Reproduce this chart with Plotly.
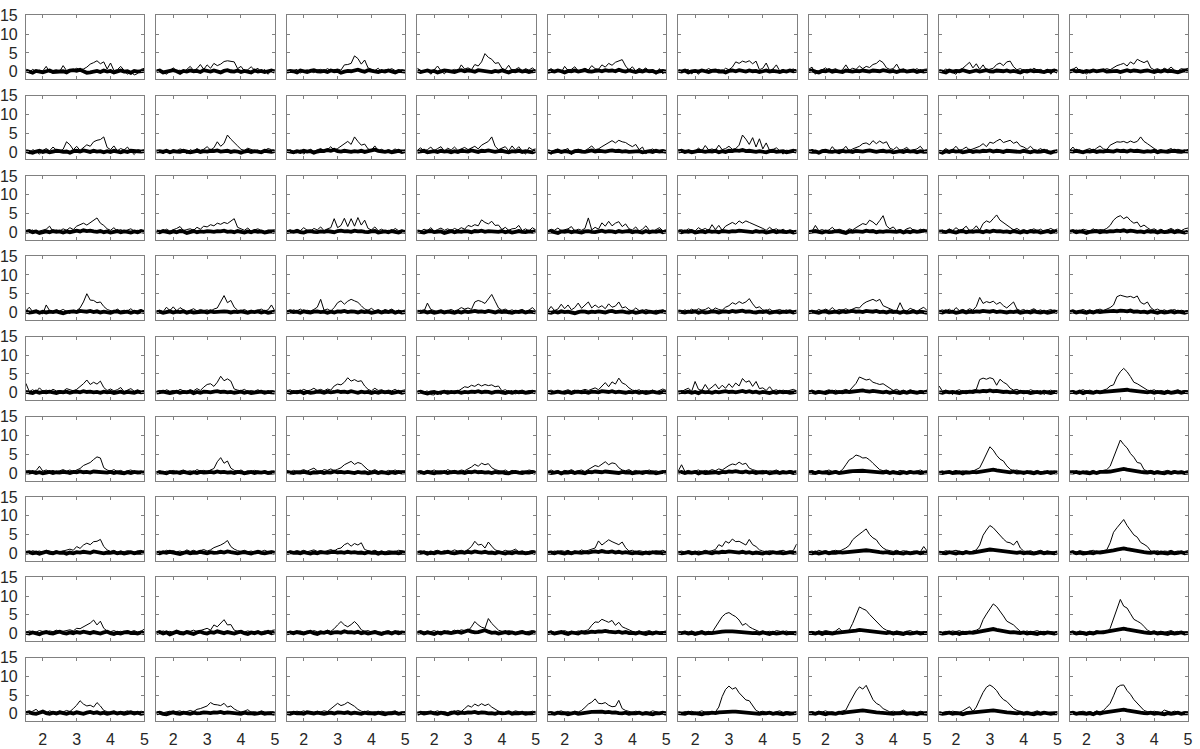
import plotly.graph_objects as go

# Sample positions (time axis) shared by every panel
X = [1.5, 1.6, 1.7, 1.8, 1.9, 2.0, 2.1, 2.2, 2.3, 2.4, 2.5, 2.6, 2.7, 2.8, 2.9, 3.0, 3.1, 3.2,
     3.3, 3.4, 3.5, 3.6, 3.7, 3.8, 3.9, 4.0, 4.1, 4.2, 4.3, 4.4, 4.5, 4.6, 4.7, 4.8, 4.9, 5.0]

X_TICKS = [2, 3, 4, 5]
Y_TICKS = [0, 5, 10, 15]
X_RANGE = [1.5, 5.0]
Y_RANGE = [-2.0, 15.0]

# ---------------- thin series (one list per panel, 9 panels per row) ----------------
THIN_ROW1 = [
    [0.3,-0.2,0.6,0.1,0.4, 0.2,1.4,-0.2,0.3,0.5, 0.1,1.6,0.3,0.6,0.4, 0.9,0.5,0.7,1.2,2.0, 2.4,2.9,2.1,2.6,0.7, 2.3,0.3,0.5,1.4,0.2, -0.7,0.1,-0.9,-0.5,0.6, 0.9],
    [0.2,0.6,-0.1,-0.7,0.3, 1.0,0.2,0.4,-0.2,0.7, 1.4,0.3,0.8,1.9,0.6, 1.8,0.9,2.2,1.6,2.0, 2.7,2.9,2.8,2.6,0.8, 1.4,0.2,0.5,1.3,0.4, 0.9,-0.3,0.6,-0.7,0.3, 0.5],
    [0.4,-0.1,0.3,0.6,-0.4, 0.2,0.5,0.1,-0.3,0.4, 0.6,0.2,0.8,0.3,0.5, 0.7,0.4,1.8,1.9,2.2, 4.2,3.5,2.0,3.1,1.0, 0.6,0.3,0.9,-0.2,0.5, 0.4,0.8,0.2,-0.2,0.5, 0.3],
    [0.9,0.4,-0.2,0.3,-0.7, 0.5,1.5,0.2,-0.6,0.4, 0.3,0.6,0.2,1.8,0.7, 1.0,0.5,1.9,1.5,2.6, 4.8,3.8,3.3,2.2,2.4, 0.9,0.5,1.7,0.3,0.6, 1.1,0.2,0.8,0.4,1.0, 0.3],
    [0.3,0.8,0.2,0.5,-0.2, 1.4,0.3,0.6,1.3,0.2, 0.5,0.9,0.4,1.6,0.8, 0.6,1.8,1.2,2.2,1.7, 2.5,2.9,3.2,1.5,0.4, 1.3,0.2,0.9,0.4,1.0, -0.2,0.6,-0.7,0.8,-0.6, 0.4],
    [0.4,-0.1,0.3,0.6,-0.6, 0.2,-0.7,0.5,0.3,0.8, 0.4,0.2,0.6,0.1,0.9, 0.5,1.2,2.6,2.2,2.8, 2.5,2.9,2.1,2.8,0.5, 0.9,2.3,0.3,0.7,1.8, 0.2,0.6,-0.2,0.4,0.7, 0.3],
    [0.6,1.2,-0.7,0.3,0.5, 1.0,0.2,0.4,0.8,0.1, 0.5,1.8,0.4,0.9,0.6, 1.5,0.8,1.4,1.1,1.9, 2.2,3.0,2.4,1.0,0.6, 0.8,2.0,0.4,0.7,0.2, 0.5,0.3,0.8,0.2,0.6, 0.7],
    [0.4,0.1,0.7,0.3,-0.2, -0.7,0.5,0.9,1.7,2.5, 1.0,2.1,0.6,1.8,0.4, 0.7,0.9,1.9,2.3,1.6, 2.6,2.8,1.3,0.5,0.8, 0.3,0.6,0.2,0.9,0.4, 0.6,0.1,0.7,-0.7,0.5, 0.3],
    [0.3,0.6,1.2,0.2,0.4, -0.7,0.3,0.5,0.1,0.6, 0.4,0.8,0.5,1.1,1.6, 1.9,2.2,1.5,2.6,2.0, 3.3,2.8,2.4,2.9,1.0, 0.5,0.8,0.3,0.9,0.5, 1.2,0.4,0.2,0.8,0.6, 0.9],
]
THIN_ROW2 = [
    [0.3,-0.5,0.6,0.2,-0.6, 0.4,0.9,0.3,1.3,0.5, 0.2,0.7,2.7,1.9,0.6, 1.5,0.4,1.1,1.9,1.5, 2.7,3.1,3.3,4.0,1.2, 0.6,1.6,0.3,0.9,0.5, 1.3,0.2,-0.7,0.6,0.4, 0.5],
    [0.5,0.2,-0.4,0.4,0.1, 0.6,0.3,0.8,0.5,-0.5, 0.6,0.2,0.9,0.4,0.7, 1.4,0.5,1.1,2.7,1.5, 2.3,4.5,3.4,2.4,1.6, 0.7,0.4,1.0,0.6,0.3, 0.5,-0.2,0.4,0.9,0.6, 0.4],
    [0.2,0.6,0.1,-0.3,0.5, -0.6,0.3,0.7,0.2,0.5, 0.9,0.3,0.6,1.4,0.4, 0.9,1.6,2.3,2.8,2.0, 4.0,2.8,1.8,2.1,0.8, 0.5,1.6,0.3,0.7,0.2, 0.6,0.3,0.8,0.1,0.5, 0.3],
    [0.4,1.1,0.2,0.6,1.3, 0.3,0.9,1.4,0.2,1.0, 0.5,1.3,0.4,0.9,1.2, 0.6,1.0,1.5,0.8,1.8, 2.3,2.8,4.0,1.5,0.6, 0.9,1.4,0.3,1.6,0.5, 1.4,0.2,-0.6,1.2,0.6, 0.8],
    [0.3,-0.7,0.5,0.8,0.2, 0.6,0.9,-0.7,0.4,0.7, 0.5,0.3,0.9,1.6,0.6, 0.8,1.4,2.0,2.5,3.0, 2.4,3.1,2.7,2.5,1.9, 1.4,2.0,0.6,1.3,-0.5, 0.4,0.8,0.2,0.5,0.6, 0.3],
    [0.6,0.2,-0.3,0.5,0.4, 0.2,1.0,0.3,1.7,0.5, 0.8,0.4,1.8,0.6,0.9, 1.5,0.7,0.9,1.8,4.5, 3.4,2.0,3.8,1.3,3.5, 0.8,2.4,0.4,0.6,1.1, 0.3,-0.6,0.5,0.2,0.4, 0.6],
    [0.2,0.7,0.3,-0.2,0.5, 0.4,0.1,1.4,0.3,0.6, 0.5,1.5,0.2,0.8,1.2, 1.5,2.2,2.4,1.9,3.0, 2.2,2.9,2.3,2.7,1.0, 0.6,1.3,0.4,0.7,1.2, 0.3,0.5,0.8,1.5,0.4, 0.6],
    [0.4,0.2,0.9,0.3,0.6, 1.5,0.4,0.7,1.3,0.5, 0.8,1.1,1.5,2.2,1.4, 2.6,2.3,2.9,3.4,2.5, 2.8,3.1,2.3,2.7,1.6, 1.3,0.7,1.5,0.6,0.4, 0.9,0.2,0.6,-0.5,0.3, 0.5],
    [0.3,1.3,0.2,0.5,-0.4, 0.6,0.9,0.3,1.0,1.6, 0.8,0.6,1.8,2.2,2.7, 2.6,2.8,2.4,2.9,2.5, 2.8,4.0,2.8,2.2,1.5, 0.9,0.4,0.6,0.2,0.5, 0.9,0.3,0.7,0.5,0.2, 0.7],
]
THIN_ROW3 = [
    [0.4,0.1,0.6,-0.2,0.3, 0.5,0.8,1.6,0.2,0.6, 0.3,0.9,0.5,1.2,0.7, 1.6,2.1,2.4,1.9,2.6, 3.2,3.8,2.4,1.8,0.9, 0.5,1.2,0.3,0.7,0.2, 0.6,0.9,0.3,0.5,0.2, 0.4],
    [0.2,0.5,0.1,0.8,0.3, 0.6,1.0,1.5,0.4,0.7, 0.9,0.5,1.3,0.8,1.6, 1.4,2.0,1.7,2.4,2.1, 2.6,2.3,2.9,3.6,1.3, 0.8,0.5,1.1,0.3,0.6, 0.9,0.4,0.2,0.6,0.5, 0.7],
    [0.3,0.6,0.2,0.8,0.4, 1.2,0.5,0.3,1.0,0.6, 1.4,0.4,0.9,1.2,3.6, 1.2,1.8,3.7,1.5,3.6, 1.6,3.9,1.9,3.2,1.0, 0.6,1.4,0.4,0.8,0.3, 0.5,0.2,1.0,0.4,0.6, 0.3],
    [0.5,0.2,0.8,0.4,1.2, 0.3,0.7,1.1,0.5,0.9, 0.4,1.0,0.6,1.2,0.8, 1.8,1.5,2.0,1.7,3.3, 2.6,2.2,2.9,1.8,1.9, 0.7,1.3,0.5,0.9,1.0, 1.8,0.4,0.9,0.3,1.2, 0.6],
    [0.3,0.8,0.5,1.1,0.4, 0.6,0.9,1.5,0.3,0.8, 0.5,1.0,3.8,0.6,1.3, 0.8,2.5,1.6,2.9,1.7, 2.4,2.8,1.5,2.2,0.9, 0.6,1.4,0.3,0.8,1.7, 0.5,0.2,0.7,1.2,0.4, 0.6],
    [0.4,0.7,0.2,0.9,0.5, 0.3,1.2,0.6,1.0,0.4, 2.0,0.7,1.8,0.5,1.6, 2.2,2.6,2.1,3.0,2.4, 3.0,2.6,2.2,1.9,1.6, 1.0,0.5,1.3,0.6,0.9, 0.3,0.8,0.2,0.6,0.4, 0.5],
    [0.5,0.2,1.8,0.4,0.7, 0.3,0.6,1.3,0.4,0.8, 0.5,0.2,0.9,0.6,1.2, 1.8,2.3,2.0,3.2,2.7, 1.9,3.1,4.4,1.7,0.9, 1.4,0.4,0.7,0.3,0.9, 1.2,0.5,0.2,0.8,0.4, 0.6],
    [0.3,0.6,0.2,0.9,0.4, 1.2,0.5,0.8,1.6,0.4, 0.7,1.7,0.5,2.3,3.0, 2.6,3.6,4.6,3.2,2.6, 1.8,1.2,0.6,1.0,0.4, 0.7,0.3,0.5,0.9,0.4, 0.8,0.2,0.6,1.0,0.5, 0.9],
    [0.4,0.2,0.6,0.3,0.8, 0.5,0.3,0.9,0.4,0.7, 0.6,1.0,1.8,3.2,4.0, 4.4,3.6,4.1,3.1,2.4, 2.7,1.4,1.9,1.2,0.6, 0.9,0.4,0.8,0.3,0.6, 1.0,0.5,0.8,0.4,0.9, 1.1],
]
THIN_ROW4 = [
    [0.4,1.4,0.2,0.6,0.3, -0.4,2.0,0.5,0.2,0.7, 0.4,0.8,0.3,-0.3,0.6, 0.5,1.2,2.8,5.0,3.3, 3.2,2.6,2.8,1.6,0.8, 0.5,0.2,0.9,0.3,0.6, 0.4,1.0,0.2,0.5,0.8, 0.3],
    [0.3,0.6,0.2,1.4,0.5, 1.5,0.4,1.3,0.7,0.3, 0.6,1.0,0.4,0.8,0.5, 0.7,0.3,0.9,1.2,3.0, 4.5,2.6,3.2,1.4,0.6, 0.4,0.8,0.3,0.6,0.2, 0.5,0.9,0.4,0.7,2.0, 0.4],
    [0.5,0.2,0.7,0.4,0.9, 0.3,0.6,0.4,0.8,1.4, 3.5,0.6,0.9,0.4,1.3, 2.6,3.1,2.2,3.0,3.5, 3.1,2.7,1.8,0.9,0.6, 1.1,0.4,0.7,0.3,0.8, 0.5,0.9,0.3,0.6,0.4, 0.7],
    [0.4,0.6,0.3,2.5,0.8, 0.4,0.2,0.6,0.3,0.5, 0.8,0.4,0.7,1.3,0.9, 1.2,0.8,2.8,3.2,2.9, 2.4,3.6,4.8,3.0,1.2, 0.6,0.9,0.4,0.7,0.3, 0.5,0.8,0.2,0.6,1.3, 0.4],
    [0.4,1.6,0.5,0.9,2.2, 1.0,2.0,0.7,1.3,2.5, 1.1,2.0,2.8,1.2,2.0, 1.3,1.8,1.0,2.3,1.4, 1.7,2.8,1.2,1.5,0.7, 0.4,1.2,0.5,0.3,0.8, 0.5,0.2,0.6,0.4,0.7, 0.3],
    [0.5,0.2,0.7,0.3,0.9, 0.4,1.0,0.6,0.8,1.3, 0.5,1.2,0.8,0.6,1.4, 1.8,2.6,2.2,2.9,2.4, 2.8,3.7,2.3,1.2,1.5, 0.7,0.4,0.9,0.3,0.6, 0.8,0.4,0.7,0.2,0.5, 0.6],
    [0.3,0.6,0.2,0.8,0.4, 0.9,0.5,1.3,0.4,0.8, 0.6,1.0,0.5,0.9,1.3, 1.2,2.2,2.8,3.2,3.5, 3.0,3.5,1.8,1.4,0.9, 0.6,0.5,2.6,0.7,0.4, 1.1,0.6,0.3,0.9,1.4, 0.5],
    [0.4,0.7,0.3,0.9,0.2, 1.3,0.5,0.8,0.4,1.0, 0.6,1.6,4.0,2.4,2.9, 2.6,3.0,2.2,2.7,1.8, 1.2,2.0,2.8,0.9,0.5, 0.8,0.3,0.6,1.0,0.4, 0.7,0.2,0.5,0.8,0.3, 0.6],
    [0.3,0.6,0.2,0.5,0.8, 0.4,0.7,0.3,0.6,0.9, 0.5,0.8,1.3,2.0,4.2, 4.6,4.4,4.1,4.3,3.9, 4.4,2.7,2.2,2.8,1.3, 0.6,0.9,0.4,0.7,0.3, 0.5,0.8,0.3,0.6,0.4, 0.5],
]
THIN_ROW5 = [
    [2.5,0.3,0.8,0.2,1.3, 0.4,0.7,0.3,0.9,0.5, 0.6,0.4,1.1,0.7,0.5, 0.9,1.6,2.4,3.4,2.2, 2.8,2.3,3.1,1.4,0.6, 1.0,0.5,0.8,1.4,0.3, 0.7,1.1,0.4,0.8,0.3, 0.5],
    [0.3,0.6,0.2,0.8,0.4, 0.6,0.3,0.9,0.5,0.4, 0.8,0.5,1.1,0.6,1.5, 2.2,2.4,1.7,2.8,4.4, 3.2,3.7,3.1,1.0,0.7, 0.5,0.9,0.3,0.6,0.4, 0.8,0.3,0.5,0.2,0.6, 0.4],
    [0.5,0.8,0.3,0.6,0.4, 0.9,0.5,0.7,1.2,0.6, 0.9,0.5,1.0,0.7,1.8, 2.3,2.1,2.8,4.0,3.1, 3.5,3.0,3.2,1.8,0.9, 0.5,1.2,0.6,0.8,0.4, 0.7,0.5,0.9,0.3,0.6, 0.8],
    [0.3,0.6,0.2,0.5,-0.5, -0.6,0.4,-0.5,0.3,0.6, 0.2,0.5,0.4,0.9,1.6, 1.4,2.0,1.7,2.3,1.8, 2.2,1.9,2.1,1.6,1.8, 0.5,0.8,0.3,0.6,-0.4, 0.5,0.7,0.3,0.6,0.4, 0.5],
    [0.4,0.7,0.3,0.5,0.2, 0.6,0.8,0.4,0.7,0.3, 0.5,0.9,0.6,1.0,1.3, 0.8,1.8,2.7,1.6,2.9, 2.3,3.9,2.6,2.2,1.3, 0.7,0.5,0.8,0.3,0.6, 0.4,0.7,0.2,0.5,1.0, 0.6],
    [0.5,0.3,0.8,1.2,0.4, 3.0,0.9,0.6,2.2,0.8, 1.5,2.3,1.0,2.0,1.2, 2.4,1.4,2.6,1.8,3.8, 2.8,3.2,1.7,3.0,1.1, 1.3,0.6,1.6,0.5,0.8, 0.3,0.7,0.4,0.6,0.9, 0.5],
    [0.4,0.7,0.3,0.6,0.2, 0.5,0.8,0.4,0.7,0.3, 0.6,0.9,0.5,1.4,2.5, 4.2,3.8,3.4,3.6,2.8, 2.5,2.2,2.4,1.8,1.4, 0.6,0.9,0.4,0.7,0.3, 0.8,0.5,0.2,0.6,0.4, 0.7],
    [1.8,0.4,0.7,0.3,-0.5, 0.5,0.8,0.3,0.6,0.4, 0.7,0.9,3.5,3.9,3.6, 4.0,3.7,2.0,3.6,2.8, 2.3,1.2,0.7,0.9,0.4, 0.6,0.3,0.8,0.5,0.2, 0.6,-0.5,0.4,0.7,0.3, 0.5],
    [0.3,0.6,0.2,0.5,0.8, 0.4,0.7,0.3,0.6,0.4, 0.8,1.0,1.8,2.1,4.2, 5.6,6.5,5.6,4.3,2.8, 2.4,1.8,1.1,0.7,0.5, 0.8,0.3,0.6,0.4,0.7, 0.3,0.5,0.8,0.4,0.6, 0.5],
]
THIN_ROW6 = [
    [0.4,0.7,0.3,0.6,1.8, 0.5,0.8,0.4,0.7,0.3, 0.6,0.9,0.5,0.8,0.4, 0.7,1.2,2.0,2.3,2.8, 3.6,4.3,4.0,1.4,0.8, 0.5,0.9,0.4,0.7,0.3, 0.6,0.8,0.4,0.5,0.3, 0.6],
    [0.3,0.6,0.2,0.5,0.4, 0.7,0.3,0.6,0.8,0.4, 0.6,0.3,0.9,0.5,0.7, 0.4,0.8,1.2,3.0,4.1, 2.6,3.2,1.3,0.7,0.5, 0.8,0.3,0.6,0.4,0.7, 0.5,0.2,0.6,0.3,0.5, 0.4],
    [0.5,0.3,0.7,0.4,0.6, 0.9,0.5,0.8,1.3,0.6, 0.4,0.9,0.7,1.1,0.6, 1.0,1.4,2.2,2.6,3.1, 2.3,2.8,2.5,1.6,0.8, 0.5,0.9,0.4,0.6,0.3, 0.7,0.5,0.8,0.4,0.6, 0.5],
    [0.4,0.6,0.3,0.7,0.5, 0.8,0.4,0.6,0.3,0.9, 0.5,0.7,0.4,0.8,0.6, 1.0,1.6,2.3,1.8,2.6, 2.2,2.5,1.4,0.9,0.6, 0.4,0.8,0.3,0.7,0.5, 0.3,0.6,0.4,0.8,0.5, 0.4],
    [0.3,0.8,0.4,0.6,0.2, 0.7,0.5,0.9,0.4,0.6, 0.8,0.4,1.0,1.6,2.0, 1.7,2.4,3.0,2.2,2.7, 2.5,1.4,0.8,0.6,0.9, 0.4,0.7,0.3,0.6,0.5, 0.8,0.4,0.6,0.3,0.5, 0.7],
    [0.5,2.2,0.4,0.7,0.3, 0.6,0.8,0.4,0.7,0.5, 0.9,0.6,1.1,0.8,1.5, 2.0,2.4,2.2,2.9,2.3, 2.6,1.3,0.9,0.6,0.4, 0.7,0.3,0.6,0.5,0.8, 0.4,0.6,0.3,0.7,0.5, 0.6],
    [0.4,0.7,0.3,0.6,0.2, 0.5,0.8,0.4,0.6,0.3, 0.9,2.2,3.5,4.0,4.8, 4.5,4.0,4.1,3.5,2.6, 1.8,0.9,0.6,0.8,0.4, 0.6,0.3,0.7,0.5,0.4, 0.6,0.3,0.5,0.8,0.4, 0.5],
    [0.3,0.6,0.2,0.5,0.4, 0.7,0.3,0.6,0.4,0.2, 0.5,1.0,1.4,3.2,5.2, 7.0,6.1,4.7,3.7,3.2, 1.9,1.0,0.6,0.8,0.4, 0.5,0.3,0.6,0.4,0.7, 0.3,0.5,0.2,0.6,0.4, 0.5],
    [0.4,0.6,0.3,0.5,0.2, 0.6,0.4,0.7,0.3,0.5, 0.6,0.9,1.8,4.1,6.2, 8.8,7.6,6.7,5.2,4.2, 2.8,2.6,0.9,0.5,0.7, 0.4,0.6,0.3,0.5,0.7, 0.4,0.6,0.3,0.5,0.4, 0.6],
]
THIN_ROW7 = [
    [0.5,0.2,0.7,0.4,0.6, 0.3,0.8,0.5,0.4,0.7, 0.3,0.6,0.9,1.1,0.8, 1.8,1.3,2.2,2.7,2.3, 3.1,3.2,3.7,1.8,0.9, 0.5,0.8,0.3,0.6,0.4, 0.7,0.5,0.3,0.6,0.8, 0.4],
    [0.4,0.6,0.3,0.8,0.5, 0.7,0.4,0.6,0.3,0.9, 0.5,0.8,0.4,0.7,1.0, 0.6,0.9,1.5,1.8,2.2, 2.7,3.4,1.8,1.1,0.7, 0.5,0.8,0.4,0.6,0.3, 0.7,0.5,0.8,0.4,0.6, 0.5],
    [0.3,0.6,0.4,0.7,0.5, 0.8,0.4,0.6,0.9,0.5, 0.7,0.4,0.8,1.0,0.6, 1.2,1.4,2.3,2.7,1.9, 2.6,2.2,2.8,1.0,0.7, 0.5,0.8,0.4,0.6,0.3, 0.7,0.5,0.4,0.8,0.6, 0.5],
    [0.4,0.7,0.3,0.5,-0.4, 0.6,0.8,0.4,0.7,0.3, 0.5,0.9,0.6,0.8,0.5, 1.0,1.8,3.2,2.2,2.4, 1.4,3.0,1.9,0.9,0.6, 0.4,0.8,0.5,0.7,1.1, 0.4,0.6,0.3,0.5,0.7, 0.6],
    [0.5,0.3,0.6,0.4,0.7, 0.5,0.8,0.3,0.6,0.4, 0.9,0.5,0.8,1.1,1.4, 3.3,2.2,2.9,3.6,3.1, 2.6,2.3,3.0,1.5,0.6, 0.8,0.4,0.7,0.5,0.3, 0.6,0.4,0.7,0.5,0.8, 0.4],
    [0.4,0.6,0.3,0.7,0.5, 0.3,0.6,0.4,0.8,0.5, 0.7,1.0,2.3,1.8,3.2, 2.7,3.8,3.1,3.2,2.7, 2.2,3.7,2.3,1.8,0.9, 0.6,0.4,0.7,0.5,0.3, 0.6,0.8,0.4,0.5,0.7, 2.5],
    [0.4,0.6,0.3,0.8,0.5, 0.7,0.4,0.6,0.8,0.5, 0.9,1.4,2.1,3.6,4.4, 5.2,5.8,6.5,5.0,4.1, 3.6,2.3,1.4,0.9,0.6, 0.5,0.8,0.4,0.7,0.5, 0.3,0.6,0.5,0.4,1.8, 0.6],
    [0.5,0.3,0.7,0.4,0.6, 0.8,0.5,0.4,0.7,0.3, 0.6,0.9,2.2,4.8,6.2, 7.4,6.8,5.8,4.6,3.8, 3.0,2.8,2.2,3.3,1.4, 0.6,0.4,0.7,0.3,0.5, 0.8,0.4,0.6,0.3,0.5, 0.6],
    [0.4,0.6,0.3,0.7,0.5, 0.3,0.6,0.8,0.4,0.5, 0.7,0.9,2.8,5.6,6.8, 7.8,9.0,7.4,6.3,4.9, 4.3,2.9,2.4,1.8,0.6, 0.4,0.7,0.3,0.6,0.5, 0.8,0.4,0.6,0.3,0.5, 0.7],
]
THIN_ROW8 = [
    [0.3,0.7,0.5,0.4,0.8, 0.6,0.3,0.7,0.5,0.9, 0.4,0.6,0.8,1.0,0.7, 1.4,1.3,1.8,2.3,2.8, 3.6,2.3,3.3,1.4,0.7, 0.5,0.8,0.4,0.6,0.3, 0.7,0.5,0.8,0.4,0.6, 1.2],
    [0.5,0.3,0.7,0.4,0.6, 0.3,0.8,0.5,0.4,0.7, 0.6,0.9,0.5,0.8,1.2, 1.4,0.9,2.3,1.8,2.8, 3.7,2.3,2.4,0.9,0.6, 0.8,0.4,0.7,0.5,0.3, 0.6,0.4,0.7,0.5,0.8, 1.0],
    [0.4,0.6,0.3,0.5,0.7, 0.4,0.6,0.3,0.8,0.5, 0.7,0.4,0.9,0.6,1.3, 2.3,3.2,2.3,1.8,2.4, 3.2,2.3,1.0,0.6,0.8, 0.4,0.7,0.5,0.3,0.6, 0.8,0.4,0.5,0.7,0.3, 0.6],
    [0.3,0.6,0.4,0.7,0.5, 0.8,0.4,0.6,0.3,0.7, 0.5,0.9,0.6,1.0,0.8, 0.7,1.8,3.2,2.3,1.7, 1.4,4.0,2.7,1.8,0.9, 0.6,0.4,0.8,0.5,0.3, 0.6,0.7,0.4,0.5,0.8, 0.6],
    [0.4,0.7,0.3,0.6,0.5, 0.8,0.4,0.6,0.3,0.7, 0.5,0.8,1.0,2.2,3.1, 3.0,3.8,3.4,3.0,3.5, 2.2,3.0,1.8,1.4,0.9, 0.6,0.4,0.7,0.3,0.5, 0.8,0.4,0.6,0.3,0.5, 0.7],
    [0.5,0.3,0.6,0.4,0.7, 0.3,0.5,0.8,0.4,0.6, 0.3,1.8,3.1,4.5,5.3, 5.6,5.0,4.5,3.6,2.2, 2.7,1.8,1.3,0.9,0.5, 0.7,0.4,0.6,0.3,0.8, 0.5,0.4,0.7,0.3,0.5, 0.6],
    [0.4,0.6,0.3,0.7,0.5, 0.8,0.6,0.4,0.7,1.4, 0.5,0.8,0.9,2.7,5.0, 7.1,6.6,6.2,5.1,4.2, 3.2,2.3,1.4,0.9,0.6, 0.4,0.7,0.5,0.3,0.6, 0.8,0.4,0.6,0.5,0.3, 0.6],
    [0.5,0.3,0.6,0.4,0.7, 0.5,0.8,0.4,0.6,0.3, 0.7,0.9,1.4,3.7,5.2, 6.6,7.9,7.2,6.1,4.7, 3.3,2.8,2.3,1.4,0.6, 0.4,0.7,0.3,0.5,0.8, 0.4,0.6,0.3,0.5,0.4, 0.6],
    [0.4,0.6,0.3,0.7,0.5, 0.3,0.6,0.4,0.8,0.5, 0.7,0.4,1.4,3.8,6.6, 9.1,7.3,6.8,5.3,3.8, 3.3,2.8,1.9,0.9,0.5, 0.7,0.4,0.6,0.3,0.5, 0.8,0.4,0.6,0.3,0.5, 0.4],
]
THIN_ROW9 = [
    [0.5,0.3,0.7,1.2,0.4, 0.6,0.3,0.8,0.5,0.4, 0.7,0.5,0.9,0.6,1.4, 2.3,3.5,2.6,2.1,2.3, 1.8,3.0,2.1,0.9,0.6, 0.4,0.7,0.3,0.6,0.5, 0.8,0.4,0.6,0.3,0.7, 0.5],
    [0.4,0.6,0.3,0.5,0.7, 0.4,0.6,0.8,0.3,0.5, 0.9,0.6,1.2,1.4,1.8, 2.1,3.0,2.5,2.4,2.2, 2.8,1.8,2.1,1.3,0.8, 0.5,0.7,1.1,0.4,0.6, 0.3,0.8,0.5,0.4,0.6, 0.5],
    [0.3,0.6,0.4,0.7,0.5, 0.8,0.4,0.6,0.3,0.7, 0.5,0.8,0.6,1.3,2.1, 2.8,2.2,2.5,3.1,2.6, 2.0,1.2,0.7,0.5,0.8, 0.4,0.6,0.3,0.7,0.5, 0.4,0.6,0.8,0.3,0.5, 0.6],
    [0.5,0.3,0.6,0.4,0.7, 0.5,0.8,0.4,0.6,0.3, 0.7,0.5,0.9,0.6,1.4, 2.2,1.8,2.6,2.1,2.7, 2.2,2.6,1.8,1.3,0.7, 0.5,0.3,0.6,0.4,0.8, 0.5,0.3,0.6,0.4,0.7, 0.5],
    [0.4,0.6,0.3,0.5,0.8, 0.4,0.6,0.3,0.7,0.5, 0.9,1.7,2.6,3.1,4.0, 2.8,2.7,3.0,2.3,1.9, 2.0,3.6,1.4,0.9,0.6, 0.4,0.7,0.5,0.3,0.6, 0.4,0.8,0.5,0.3,0.6, 0.5],
    [0.5,0.3,0.6,0.4,0.7, 0.3,0.5,0.8,0.4,0.6, 0.3,0.5,1.8,4.6,6.5, 7.4,6.6,7.0,5.6,4.6, 3.7,3.5,2.2,0.9,0.5, 0.7,0.4,0.6,0.3,0.5, 0.8,0.4,0.6,0.5,0.3, 0.6],
    [0.4,0.6,0.3,0.7,0.5, 0.8,0.4,0.6,0.3,0.5, 0.7,1.0,2.8,4.6,6.1, 7.2,6.6,7.6,5.7,3.8, 2.8,2.3,1.4,0.9,0.5, 0.7,0.4,0.6,1.0,0.5, 0.3,0.6,0.4,0.7,0.5, 0.6],
    [0.5,0.3,0.6,0.4,0.7, 0.5,0.4,0.8,1.4,1.9, 0.6,1.8,3.8,5.7,7.1, 7.7,7.1,6.2,4.8,3.8, 3.3,2.3,1.4,0.9,0.6, 0.4,0.7,0.3,0.5,0.8, 0.4,0.6,0.3,0.5,0.4, 0.6],
    [0.4,0.6,0.3,0.5,0.7, 0.4,0.6,0.3,0.8,0.5, 0.9,1.8,2.8,4.8,7.0, 7.6,7.7,6.2,5.2,3.8, 2.8,1.8,0.9,0.6,0.4, 0.7,0.5,0.3,1.0,0.6, 0.4,0.7,0.5,0.3,0.6, 0.5],
]

# ---------------- thick series ----------------
THICK_ROW1 = [
    [0.3,0.0,-0.3,0.2,0.1,-0.2,0.1,0.3,-0.1,0.0,0.2,0.1,-0.2,0.3,0.4,0.2,0.5,0.1,-0.3,-0.2,0.1,0.2,-0.1,0.3,0.0,0.2,-0.2,0.1,0.3,0.0,0.1,-0.3,0.2,0.0,0.1,0.2],
    [0.1,0.3,-0.2,0.0,0.2,0.4,0.1,-0.3,0.2,0.0,0.3,0.1,0.2,-0.1,0.4,0.2,0.0,0.3,0.1,-0.2,0.2,0.4,0.1,0.0,0.3,-0.1,0.2,0.1,-0.2,0.3,0.0,0.2,-0.1,0.1,0.3,0.0],
    [0.0,0.2,0.1,-0.2,0.3,0.0,-0.1,0.2,0.4,0.1,0.0,0.2,-0.1,0.3,0.1,0.2,-0.3,0.0,0.2,0.1,0.3,0.5,0.2,0.0,0.4,0.3,0.1,-0.1,0.2,0.0,0.3,0.1,-0.2,0.2,0.1,0.0],
    [0.2,-0.1,0.1,0.3,0.0,0.2,-0.2,0.1,0.3,0.2,0.0,-0.1,0.2,0.4,0.1,0.3,0.2,0.0,0.4,0.3,0.1,0.2,-0.1,0.2,0.0,0.3,0.1,-0.2,0.2,0.1,0.3,0.0,0.2,-0.1,0.1,0.2],
    [-0.1,0.2,0.0,0.3,0.1,-0.2,0.2,0.1,0.3,0.0,0.2,0.4,0.1,0.0,0.2,0.3,0.1,0.4,0.2,0.3,0.1,0.5,0.2,0.0,0.3,0.1,-0.1,0.2,0.0,0.3,0.1,0.2,-0.2,0.1,0.2,0.0],
    [0.2,0.0,0.3,-0.2,0.1,0.2,0.0,0.3,0.1,-0.1,0.2,0.3,0.0,0.1,-0.2,0.2,0.3,0.1,0.4,0.2,0.0,0.3,0.1,0.2,-0.1,0.1,0.3,0.0,0.2,0.1,-0.1,0.2,0.0,0.3,0.1,0.2],
    [0.1,0.3,0.0,-0.2,0.2,0.1,0.4,0.0,0.2,0.1,-0.1,0.3,0.2,0.0,0.2,0.1,0.3,0.2,0.0,0.3,0.2,0.1,0.4,0.1,0.0,0.2,-0.1,0.2,0.3,0.0,0.1,0.3,-0.1,0.2,0.0,0.2],
    [0.2,0.1,-0.2,0.3,0.0,0.2,0.1,0.4,0.2,-0.1,0.1,0.3,0.0,0.2,0.4,0.1,0.0,0.3,0.2,0.1,0.3,0.0,0.2,0.1,-0.2,0.2,0.0,0.3,0.1,0.2,0.0,-0.1,0.2,0.1,0.3,0.0],
    [0.0,0.3,0.1,0.2,-0.1,0.2,0.0,0.3,0.1,0.2,0.4,0.0,0.1,0.3,0.2,-0.1,0.2,0.4,0.1,0.3,0.2,0.0,0.2,0.3,0.1,-0.1,0.2,0.0,0.3,0.1,0.2,0.0,-0.2,0.1,0.3,0.1],
]
THICK_ROW2 = [
    [0.2,0.0,-0.2,0.1,0.3,0.0,0.2,-0.1,0.1,0.3,0.2,0.0,0.1,-0.2,0.2,0.3,0.1,0.4,0.2,0.0,0.3,0.1,0.2,-0.1,0.2,0.0,0.3,0.1,-0.1,0.2,0.0,0.3,0.2,0.0,0.1,0.2],
    [0.1,0.2,0.0,0.3,-0.1,0.2,0.1,0.0,0.3,0.2,-0.1,0.1,0.3,0.0,0.2,0.1,0.3,0.2,0.4,0.1,0.2,0.3,0.0,0.2,0.1,-0.2,0.1,0.3,0.0,0.2,0.1,-0.1,0.3,0.1,0.0,0.2],
    [0.3,0.1,-0.1,0.2,0.0,0.3,0.1,0.2,-0.2,0.1,0.3,0.2,0.5,0.3,0.6,0.2,0.1,0.3,0.2,0.0,0.2,0.1,0.3,0.0,0.2,0.4,0.6,0.3,0.1,0.0,0.2,-0.1,0.1,0.3,0.0,0.2],
    [0.0,0.2,0.3,-0.1,0.1,0.2,0.0,0.3,0.1,0.2,-0.1,0.2,0.0,0.3,0.2,0.1,0.4,0.2,0.0,0.3,0.2,0.4,0.1,0.0,0.2,0.3,0.1,-0.1,0.2,0.1,0.3,0.0,0.2,0.1,-0.1,0.2],
    [0.2,-0.1,0.1,0.3,0.0,0.2,0.1,-0.2,0.2,0.3,0.1,0.0,0.2,0.4,0.1,0.3,0.2,0.1,0.3,0.4,0.2,0.3,0.1,0.2,0.0,0.1,0.3,0.2,-0.1,0.1,0.2,0.0,0.3,0.1,0.2,0.0],
    [0.1,0.3,0.0,0.2,-0.1,0.1,0.3,0.2,0.0,0.2,0.1,0.3,-0.1,0.2,0.0,0.3,0.2,0.4,0.3,0.5,0.2,0.3,0.1,0.0,0.2,0.1,-0.1,0.2,0.3,0.0,0.1,0.2,-0.1,0.1,0.3,0.1],
    [0.2,0.0,0.1,-0.2,0.2,0.3,0.1,0.0,0.2,-0.1,0.3,0.1,0.2,0.0,0.3,0.2,0.1,0.3,0.4,0.2,0.0,0.2,0.3,0.1,0.2,-0.1,0.1,0.2,0.0,0.3,0.1,0.2,-0.1,0.2,0.0,0.1],
    [0.1,-0.2,0.2,0.0,0.3,0.1,0.2,-0.1,0.1,0.3,0.0,0.2,0.1,0.3,0.2,0.4,0.1,0.3,0.2,0.0,0.3,0.2,0.1,0.2,0.0,0.3,0.1,-0.1,0.2,0.0,0.1,0.3,0.0,-0.2,0.1,0.2],
    [0.2,0.1,0.3,0.0,-0.1,0.2,0.1,0.3,0.0,0.2,0.1,0.3,0.2,0.1,0.4,0.2,0.3,0.1,0.4,0.2,0.3,0.1,0.0,0.2,0.1,0.3,-0.1,0.2,0.1,0.0,0.2,0.3,0.1,0.0,0.2,0.1],
]
THICK_ROW3 = [
    [0.1,0.3,0.0,0.2,-0.2,0.1,0.2,0.0,0.3,0.1,0.2,-0.1,0.2,0.0,0.3,0.4,0.2,0.5,0.3,0.4,0.2,0.1,0.3,0.0,0.2,-0.1,0.1,0.3,0.0,0.2,0.1,-0.1,0.2,0.0,0.3,0.1],
    [0.2,0.0,0.3,0.1,-0.1,0.2,0.0,0.3,0.2,-0.2,0.1,0.3,0.0,0.2,0.1,0.3,0.2,0.1,0.3,0.2,0.4,0.1,0.2,0.0,0.3,0.1,-0.1,0.2,0.0,0.3,0.1,0.2,-0.1,0.1,0.2,0.0],
    [0.0,0.2,0.1,0.3,0.0,-0.1,0.2,0.3,0.1,0.0,0.2,0.1,0.3,0.2,0.0,0.3,0.4,0.2,0.3,0.1,0.4,0.2,0.3,0.1,0.0,0.2,0.3,-0.1,0.1,0.2,0.0,0.3,0.1,-0.1,0.2,0.1],
    [0.2,0.1,-0.1,0.2,0.3,0.0,0.1,0.2,-0.2,0.1,0.3,0.0,0.2,0.1,0.3,0.2,0.0,0.3,0.2,0.4,0.1,0.3,0.2,0.0,0.1,0.3,0.0,0.2,-0.1,0.1,0.3,0.1,0.0,0.2,0.1,0.3],
    [0.1,0.2,0.0,-0.2,0.2,0.1,0.3,0.0,0.2,0.1,-0.1,0.2,0.3,0.1,0.0,0.2,0.4,0.1,0.3,0.2,0.0,0.3,0.1,0.2,0.3,0.0,0.2,0.1,-0.1,0.3,0.0,0.2,0.1,0.3,0.0,0.2],
    [0.3,0.0,0.2,0.1,0.3,-0.1,0.1,0.2,0.0,0.3,0.1,0.2,0.0,0.3,0.2,0.1,0.3,0.2,0.4,0.3,0.1,0.2,0.0,0.3,0.1,0.2,-0.1,0.1,0.3,0.0,0.2,0.1,0.0,0.2,-0.1,0.1],
    [0.0,0.2,0.3,0.1,-0.1,0.2,0.0,0.1,0.3,0.2,0.0,-0.2,0.2,0.1,0.3,0.2,0.1,0.4,0.2,0.3,0.0,0.2,0.1,0.3,0.2,0.0,0.1,0.3,-0.1,0.2,0.0,0.3,0.1,0.2,0.4,0.1],
    [0.2,0.1,0.0,0.3,0.1,-0.1,0.2,0.3,0.0,0.2,0.1,0.3,0.2,0.0,0.3,0.1,0.4,0.2,0.3,0.1,0.2,0.0,0.3,0.1,-0.1,0.2,0.0,0.3,0.1,0.2,-0.1,0.1,0.3,0.0,0.2,0.1],
    [0.1,0.3,0.0,0.2,0.1,-0.2,0.1,0.2,0.3,0.0,0.2,0.1,0.3,0.2,0.4,0.3,0.5,0.2,0.4,0.3,0.1,0.2,0.0,0.3,0.1,0.2,-0.1,0.2,0.0,0.1,0.3,0.0,0.2,0.1,-0.1,0.2],
]
THICK_ROW4 = [
    [0.2,0.0,0.1,0.3,-0.1,0.2,0.0,0.2,0.1,0.3,0.0,-0.2,0.1,0.2,0.3,0.1,0.4,0.3,0.2,0.4,0.1,0.3,0.0,0.2,0.1,-0.1,0.2,0.3,0.0,0.1,0.2,-0.1,0.2,0.0,0.3,0.1],
    [0.1,0.2,-0.1,0.1,0.3,0.0,0.2,0.1,0.3,-0.1,0.2,0.0,0.1,0.3,0.2,0.0,0.3,0.1,0.2,0.4,0.3,0.2,0.0,0.2,0.1,0.3,0.0,-0.1,0.2,0.1,0.3,0.0,0.2,-0.1,0.1,0.2],
    [0.0,0.3,0.1,0.2,-0.1,0.3,0.1,0.0,0.2,0.3,0.1,0.2,-0.1,0.2,0.0,0.3,0.2,0.4,0.1,0.3,0.2,0.0,0.3,0.1,0.2,-0.1,0.1,0.3,0.0,0.2,0.1,0.3,-0.1,0.2,0.0,0.1],
    [0.2,0.1,0.3,0.0,0.2,-0.1,0.1,0.3,0.0,0.2,0.1,-0.1,0.2,0.0,0.3,0.1,0.2,0.4,0.2,0.3,0.1,0.4,0.2,0.0,0.3,0.1,0.2,0.0,-0.1,0.2,0.1,0.3,0.0,0.2,0.1,0.0],
    [0.1,-0.1,0.2,0.0,0.3,0.1,0.2,0.0,-0.2,0.1,0.3,0.2,0.0,0.2,0.1,0.3,0.2,0.0,0.3,0.4,0.1,0.2,0.3,0.1,0.0,0.2,-0.1,0.1,0.3,0.0,0.2,0.1,-0.1,0.2,0.3,0.0],
    [0.3,0.1,0.0,0.2,0.1,0.3,-0.1,0.2,0.0,0.1,0.3,0.2,0.0,0.2,0.3,0.1,0.4,0.2,0.3,0.5,0.2,0.3,0.1,0.0,0.2,0.1,0.3,-0.1,0.1,0.2,0.0,0.2,0.1,0.3,0.0,0.2],
    [0.0,0.2,0.1,-0.1,0.2,0.3,0.0,0.1,0.2,0.0,0.3,0.1,0.2,0.4,0.2,0.3,0.1,0.4,0.3,0.2,0.4,0.1,0.2,0.0,0.3,0.1,0.2,-0.1,0.2,0.0,0.1,0.3,0.0,0.2,0.1,-0.1],
    [0.2,0.0,0.3,0.1,0.2,-0.1,0.1,0.3,0.0,0.2,0.1,0.3,0.2,0.4,0.3,0.2,0.4,0.1,0.3,0.2,0.0,0.2,0.1,0.3,-0.1,0.1,0.2,0.0,0.3,0.1,0.0,0.2,-0.1,0.1,0.3,0.1],
    [0.1,0.3,0.0,0.2,0.1,-0.1,0.2,0.0,0.3,0.1,0.2,0.3,0.2,0.4,0.3,0.5,0.4,0.3,0.5,0.2,0.3,0.1,0.2,0.0,0.3,0.1,-0.1,0.2,0.0,0.1,0.3,0.0,0.2,0.1,-0.1,0.2],
]
THICK_ROW5 = [
    [0.2,0.1,-0.1,0.3,0.0,0.2,0.1,0.3,0.0,-0.1,0.2,0.1,0.3,0.0,0.2,0.3,0.1,0.4,0.2,0.3,0.1,0.2,0.0,0.3,0.1,0.2,-0.1,0.1,0.3,0.0,0.2,0.1,0.0,0.3,0.1,0.2],
    [0.0,0.2,0.3,0.1,-0.1,0.1,0.3,0.0,0.2,0.1,0.3,-0.1,0.2,0.0,0.3,0.2,0.1,0.3,0.4,0.2,0.3,0.1,0.2,0.0,0.1,0.3,0.0,0.2,-0.1,0.1,0.2,0.3,0.0,0.2,0.1,0.0],
    [0.3,0.0,0.2,0.1,0.3,-0.1,0.2,0.0,0.1,0.3,0.2,0.0,0.3,0.1,0.2,0.4,0.2,0.3,0.1,0.4,0.2,0.0,0.3,0.1,0.2,-0.1,0.2,0.0,0.3,0.1,0.2,-0.1,0.1,0.3,0.0,0.2],
    [0.1,0.3,0.0,-0.2,0.1,0.2,-0.1,0.1,0.3,0.0,0.2,0.1,0.3,0.0,0.2,0.1,0.3,0.2,0.4,0.1,0.3,0.2,0.0,0.2,0.3,0.1,-0.1,0.2,0.0,0.3,0.1,0.2,0.0,0.1,0.3,0.1],
    [0.2,0.0,0.1,0.3,0.1,0.0,0.2,-0.1,0.2,0.3,0.1,0.2,0.0,0.3,0.2,0.1,0.4,0.3,0.2,0.4,0.1,0.3,0.2,0.0,0.2,0.1,0.3,0.0,0.2,-0.1,0.1,0.3,0.1,0.0,0.2,0.1],
    [0.0,0.2,0.1,0.3,0.0,0.2,-0.1,0.3,0.1,0.2,0.0,0.3,0.1,0.2,0.4,0.2,0.3,0.1,0.3,0.5,0.2,0.4,0.1,0.3,0.0,0.2,0.1,-0.1,0.2,0.0,0.3,0.1,0.2,0.0,0.1,0.2],
    [0.1,0.3,0.0,0.2,0.1,-0.1,0.2,0.3,0.0,0.2,0.1,0.3,0.2,0.3,0.5,0.4,0.6,0.4,0.3,0.5,0.3,0.2,0.1,0.3,0.0,0.2,0.1,-0.1,0.2,0.0,0.3,0.1,0.0,0.2,0.1,0.3],
    [0.2,0.0,0.3,0.1,0.2,0.0,-0.1,0.2,0.1,0.3,0.2,0.4,0.3,0.5,0.4,0.6,0.4,0.5,0.3,0.2,0.3,0.1,0.2,0.0,0.3,0.1,0.2,-0.1,0.1,0.2,0.0,0.3,0.1,-0.1,0.2,0.1],
    [0.1,0.2,0.0,0.3,-0.1,0.2,0.1,0.0,0.3,0.1,0.2,0.3,0.4,0.5,0.6,0.8,0.7,0.8,0.6,0.5,0.3,0.4,0.2,0.1,0.3,0.0,0.2,0.1,-0.1,0.2,0.0,0.1,0.3,0.0,0.2,0.1],
]
THICK_ROW6 = [
    [0.2,0.1,0.3,0.0,0.2,-0.1,0.1,0.3,0.0,0.2,0.1,0.3,0.2,0.0,0.3,0.2,0.4,0.2,0.3,0.1,0.4,0.3,0.2,0.0,0.1,0.3,0.0,0.2,0.1,-0.1,0.2,0.0,0.3,0.1,0.2,0.0],
    [0.0,0.2,0.1,-0.1,0.3,0.1,0.2,0.0,0.3,0.1,-0.1,0.2,0.0,0.3,0.1,0.2,0.3,0.1,0.4,0.2,0.3,0.1,0.2,0.0,0.3,0.2,-0.1,0.1,0.3,0.0,0.2,0.1,0.3,0.0,0.1,0.2],
    [0.3,0.1,0.0,0.2,0.1,0.3,0.0,-0.1,0.2,0.1,0.3,0.0,0.2,0.1,0.4,0.2,0.3,0.1,0.3,0.2,0.0,0.3,0.1,0.2,-0.1,0.1,0.3,0.0,0.2,0.1,-0.1,0.2,0.0,0.3,0.1,0.2],
    [0.1,0.2,0.0,0.3,0.1,-0.1,0.2,0.1,0.3,0.0,0.2,0.3,0.1,0.2,0.0,0.3,0.2,0.4,0.2,0.3,0.1,0.2,0.0,0.3,0.1,0.2,0.0,-0.1,0.2,0.3,0.1,0.0,0.2,0.1,0.3,0.0],
    [0.2,0.0,0.1,0.3,-0.1,0.2,0.1,0.3,0.0,0.2,0.1,-0.1,0.3,0.2,0.4,0.3,0.2,0.4,0.3,0.1,0.2,0.0,0.3,0.1,0.2,-0.1,0.1,0.2,0.0,0.3,0.1,0.2,-0.1,0.1,0.3,0.1],
    [0.1,0.3,0.0,0.2,0.1,0.3,-0.1,0.2,0.0,0.1,0.3,0.2,0.0,0.3,0.2,0.4,0.3,0.5,0.3,0.2,0.4,0.1,0.3,0.0,0.2,0.1,0.3,-0.1,0.1,0.2,0.0,0.2,0.1,0.3,0.0,0.1],
    [0.2,0.1,0.0,0.3,0.1,0.2,-0.1,0.1,0.3,0.0,0.2,0.3,0.4,0.5,0.6,0.7,0.6,0.5,0.4,0.3,0.4,0.2,0.1,0.3,0.0,0.2,0.1,-0.1,0.2,0.0,0.3,0.1,0.2,0.0,0.1,0.2],
    [0.1,0.0,0.2,0.3,0.0,0.1,0.2,-0.1,0.2,0.1,0.3,0.2,0.3,0.5,0.7,0.8,0.9,0.7,0.6,0.5,0.3,0.2,0.4,0.1,0.2,0.0,0.3,0.1,-0.1,0.2,0.0,0.1,0.3,0.0,0.2,0.1],
    [0.2,0.1,0.3,0.0,0.2,0.1,-0.1,0.2,0.0,0.3,0.2,0.3,0.4,0.6,0.8,1.0,1.1,0.9,0.7,0.6,0.4,0.3,0.2,0.1,0.3,0.0,0.2,0.1,-0.1,0.2,0.0,0.3,0.1,0.2,0.0,0.1],
]
THICK_ROW7 = [
    [0.1,0.3,0.0,0.2,-0.1,0.2,0.4,0.1,0.0,0.3,0.1,0.2,-0.1,0.2,0.0,0.3,0.2,0.4,0.3,0.1,0.5,0.3,0.2,0.0,0.2,0.1,0.3,0.0,0.2,-0.1,0.1,0.3,0.0,0.2,0.1,0.3],
    [0.2,0.0,0.3,0.1,0.4,0.2,0.0,-0.2,0.1,0.3,0.0,0.2,0.1,0.4,0.2,0.0,0.3,0.1,0.2,0.4,0.2,0.5,0.3,0.1,0.0,0.2,0.3,0.1,-0.1,0.2,0.4,0.1,0.0,0.2,0.3,0.1],
    [0.0,0.3,0.1,0.2,0.0,0.3,0.1,-0.1,0.2,0.0,0.3,0.2,0.1,0.3,0.4,0.2,0.3,0.1,0.4,0.2,0.3,0.1,0.2,0.0,0.3,0.1,0.2,-0.1,0.2,0.0,0.1,0.3,0.2,0.0,0.2,0.1],
    [0.2,0.1,0.3,-0.1,0.2,0.0,0.3,0.1,0.2,0.4,0.1,0.0,0.2,0.3,0.1,0.4,0.2,0.5,0.3,0.2,0.4,0.1,0.2,0.0,0.3,0.1,-0.1,0.2,0.0,0.3,0.1,0.2,0.0,0.1,0.3,0.0],
    [0.1,0.2,0.0,0.3,0.1,-0.1,0.2,0.0,0.3,0.2,0.1,0.3,0.2,0.4,0.5,0.3,0.6,0.4,0.3,0.5,0.2,0.4,0.1,0.3,0.2,0.0,0.2,0.1,-0.1,0.2,0.0,0.3,0.1,0.2,0.0,0.2],
    [0.2,0.0,0.1,0.3,0.0,0.2,-0.1,0.1,0.3,0.2,0.0,0.3,0.2,0.4,0.3,0.5,0.4,0.3,0.2,0.4,0.1,0.3,0.0,0.2,0.1,-0.1,0.2,0.0,0.3,0.1,0.2,0.0,0.1,0.3,0.1,0.2],
    [0.1,0.0,0.2,-0.1,0.1,0.3,0.0,0.2,0.1,0.3,0.2,0.3,0.5,0.6,0.7,0.8,0.9,0.8,0.7,0.5,0.4,0.3,0.2,0.3,0.1,0.0,0.2,0.1,-0.1,0.2,0.0,0.1,0.3,0.0,0.2,0.1],
    [0.2,0.1,0.0,0.3,0.1,-0.1,0.2,0.0,0.3,0.1,0.2,0.4,0.5,0.7,0.9,1.0,0.9,0.8,0.6,0.5,0.3,0.4,0.2,0.1,0.3,0.0,0.2,0.1,-0.1,0.1,0.3,0.0,0.2,0.1,0.0,0.2],
    [0.1,0.3,0.0,0.2,-0.1,0.1,0.2,0.0,0.3,0.2,0.3,0.5,0.6,0.8,1.0,1.2,1.3,1.1,0.9,0.7,0.5,0.4,0.3,0.2,0.1,0.3,0.0,0.2,0.1,-0.1,0.2,0.0,0.1,0.3,0.0,0.2],
]
THICK_ROW8 = [
    [0.2,0.0,0.3,0.1,-0.2,0.2,0.4,0.1,0.0,0.3,0.5,0.2,0.0,0.3,0.1,0.4,0.2,0.5,0.3,0.1,0.4,0.2,0.0,0.3,0.5,0.1,-0.1,0.2,0.0,0.3,0.4,0.1,0.2,0.0,0.3,0.1],
    [0.1,0.4,0.0,0.3,-0.2,0.2,0.5,0.1,0.0,0.4,0.2,-0.1,0.3,0.5,0.2,0.0,0.4,0.2,0.6,0.3,0.1,0.4,0.2,0.0,0.3,0.5,0.1,-0.1,0.3,0.1,0.4,0.0,0.2,0.5,0.1,0.3],
    [0.0,0.3,0.1,0.4,0.2,0.0,0.3,0.5,0.1,-0.1,0.3,0.2,0.5,0.1,0.3,0.4,0.2,0.6,0.3,0.4,0.2,0.5,0.1,0.3,0.0,0.2,0.4,0.1,-0.1,0.2,0.3,0.0,0.4,0.1,0.3,0.2],
    [0.2,0.4,0.0,0.3,0.1,-0.1,0.3,0.0,0.4,0.2,0.1,0.3,0.5,0.2,0.6,0.8,0.5,0.3,0.4,0.6,0.9,0.5,0.2,0.3,0.0,0.2,0.4,0.1,0.3,0.0,0.2,0.4,0.1,0.0,0.3,0.2],
    [0.1,0.3,0.0,0.2,0.4,0.1,-0.1,0.3,0.2,0.0,0.4,0.2,0.3,0.5,0.4,0.6,0.5,0.7,0.5,0.4,0.3,0.5,0.2,0.4,0.1,0.2,0.0,0.3,0.1,-0.1,0.2,0.0,0.3,0.1,0.2,0.1],
    [0.2,0.1,0.3,0.0,0.2,-0.1,0.1,0.3,0.0,0.2,0.1,0.3,0.4,0.5,0.6,0.7,0.6,0.5,0.4,0.3,0.2,0.3,0.1,0.2,0.0,0.3,0.1,-0.1,0.2,0.0,0.1,0.3,0.0,0.2,0.1,0.0],
    [0.1,0.2,0.0,0.3,-0.1,0.2,0.1,0.0,0.2,0.3,0.2,0.4,0.5,0.7,0.8,1.0,0.9,0.8,0.6,0.5,0.4,0.3,0.2,0.1,0.3,0.0,0.2,0.1,-0.1,0.2,0.0,0.1,0.3,0.0,0.2,0.1],
    [0.2,0.0,0.1,0.3,0.0,0.2,-0.1,0.2,0.1,0.3,0.2,0.4,0.6,0.8,1.0,1.1,1.2,1.0,0.8,0.6,0.5,0.3,0.4,0.2,0.1,0.3,0.0,0.2,0.1,-0.1,0.2,0.0,0.3,0.1,0.0,0.2],
    [0.1,0.3,0.0,0.2,0.1,-0.1,0.2,0.0,0.3,0.2,0.3,0.5,0.7,0.9,1.1,1.2,1.3,1.1,0.9,0.7,0.5,0.4,0.3,0.2,0.1,0.3,0.0,0.2,0.1,-0.1,0.2,0.0,0.1,0.3,0.0,0.2],
]
THICK_ROW9 = [
    [0.2,0.4,0.1,0.0,0.3,0.6,0.2,0.0,0.3,0.1,0.4,0.2,0.0,0.3,0.1,0.4,0.2,0.0,0.3,0.5,0.2,0.4,0.1,0.3,0.0,0.2,0.4,0.1,0.3,0.0,0.2,0.4,0.1,0.3,0.0,0.2],
    [0.1,0.3,0.0,-0.1,0.2,0.4,0.1,0.0,0.3,0.2,0.0,0.3,0.1,0.2,0.4,0.3,0.2,0.4,0.3,0.5,0.2,0.4,0.3,0.1,0.2,0.0,0.3,0.1,0.2,0.0,0.1,0.3,0.0,0.2,0.1,0.0],
    [0.2,0.0,0.3,0.1,0.2,0.0,0.4,0.2,0.1,0.3,0.2,0.0,0.2,0.3,0.1,0.4,0.3,0.2,0.4,0.1,0.3,0.2,0.0,0.3,0.1,0.2,0.0,0.3,0.1,-0.1,0.2,0.1,0.3,0.0,0.2,0.1],
    [0.0,0.3,0.1,0.2,0.4,0.1,0.0,0.3,0.2,-0.1,0.2,0.4,0.1,0.3,0.2,0.4,0.3,0.5,0.2,0.4,0.3,0.1,0.2,0.0,0.3,0.1,0.2,0.4,0.0,0.2,0.1,0.3,0.0,0.2,0.1,0.3],
    [0.1,0.2,0.0,0.3,0.1,0.2,-0.1,0.1,0.3,0.0,0.2,0.3,0.4,0.5,0.6,0.5,0.6,0.4,0.5,0.3,0.4,0.2,0.1,0.3,0.0,0.2,0.1,0.3,0.0,0.2,0.1,-0.1,0.2,0.1,0.3,0.0],
    [0.2,0.1,0.0,0.3,0.1,0.2,0.0,-0.1,0.2,0.1,0.3,0.2,0.4,0.5,0.6,0.7,0.6,0.6,0.5,0.4,0.3,0.2,0.3,0.1,0.0,0.2,0.1,0.3,0.0,0.2,0.1,-0.1,0.2,0.0,0.1,0.2],
    [0.1,0.2,0.0,0.3,0.1,-0.1,0.2,0.1,0.0,0.3,0.2,0.4,0.5,0.7,0.8,0.9,0.9,0.8,0.6,0.5,0.4,0.3,0.2,0.3,0.1,0.0,0.2,0.1,0.3,0.0,0.2,0.1,-0.1,0.2,0.1,0.0],
    [0.2,0.0,0.1,0.3,0.0,0.2,0.1,-0.1,0.2,0.3,0.3,0.5,0.6,0.8,0.9,1.0,0.9,0.8,0.6,0.5,0.4,0.3,0.2,0.1,0.3,0.0,0.2,0.1,-0.1,0.2,0.0,0.3,0.1,0.0,0.2,0.1],
    [0.1,0.3,0.0,0.2,0.1,0.0,0.2,-0.1,0.3,0.1,0.3,0.4,0.6,0.8,0.9,1.0,1.1,0.9,0.7,0.6,0.4,0.3,0.2,0.1,0.3,0.0,0.2,0.1,-0.1,0.2,0.0,0.1,0.3,0.0,0.2,0.1],
]

THIN_ROWS = [THIN_ROW1, THIN_ROW2, THIN_ROW3, THIN_ROW4, THIN_ROW5, THIN_ROW6, THIN_ROW7, THIN_ROW8, THIN_ROW9]
THICK_ROWS = [THICK_ROW1, THICK_ROW2, THICK_ROW3, THICK_ROW4, THICK_ROW5, THICK_ROW6, THICK_ROW7, THICK_ROW8, THICK_ROW9]

# ---------------- layout geometry (pixels) ----------------
W, H = 1200, 749
NROWS, NCOLS = 9, 9
LEFT0, COL_STEP, PANEL_W = 26, 131, 119
TOP0, ROW_STEP, PANEL_H = 7.5, 81.25, 64.5
AXIS_COLOR = "#808080"
TEXT_COLOR = "#262626"
FONT = "Liberation Sans, Arial, sans-serif"

fig = go.Figure()
layout = {}
for r in range(NROWS):
    for c in range(NCOLS):
        n = r * NCOLS + c + 1
        sfx = "" if n == 1 else str(n)
        thin = THIN_ROWS[r][c]
        thick = THICK_ROWS[r][c]
        fig.add_trace(go.Scatter(x=X[:len(thin)], y=thin, mode="lines",
                                 line=dict(color="#000000", width=1),
                                 xaxis="x" + sfx, yaxis="y" + sfx, hoverinfo="skip"))
        fig.add_trace(go.Scatter(x=X[:len(thick)], y=thick, mode="lines",
                                 line=dict(color="#000000", width=3.8),
                                 xaxis="x" + sfx, yaxis="y" + sfx, hoverinfo="skip"))
        x0 = (LEFT0 + COL_STEP * c) / W
        x1 = (LEFT0 + COL_STEP * c + PANEL_W) / W
        top = TOP0 + ROW_STEP * r
        y1 = 1 - top / H
        y0 = 1 - (top + PANEL_H) / H
        layout["xaxis" + sfx] = dict(
            domain=[x0, x1], anchor="y" + sfx, range=X_RANGE,
            tickmode="array", tickvals=X_TICKS, showticklabels=(r == NROWS - 1),
            ticks="inside", ticklen=3, tickwidth=1, tickcolor=AXIS_COLOR,
            showline=True, linecolor=AXIS_COLOR, linewidth=1, mirror="ticks",
            showgrid=False, zeroline=False, fixedrange=True, ticklabelstandoff=3,
            tickfont=dict(family=FONT, size=16, color=TEXT_COLOR),
        )
        layout["yaxis" + sfx] = dict(
            domain=[y0, y1], anchor="x" + sfx, range=Y_RANGE,
            tickmode="array", tickvals=Y_TICKS, showticklabels=(c == 0),
            ticks="inside", ticklen=3, tickwidth=1, tickcolor=AXIS_COLOR,
            showline=True, linecolor=AXIS_COLOR, linewidth=1, mirror="ticks",
            showgrid=False, zeroline=False, fixedrange=True, ticklabelstandoff=4,
            tickfont=dict(family=FONT, size=16, color=TEXT_COLOR),
        )

fig.update_layout(
    width=W, height=H, autosize=False,
    margin=dict(l=0, r=0, t=0, b=0),
    paper_bgcolor="white", plot_bgcolor="white",
    showlegend=False, hovermode=False,
    **layout,
)
fig.write_html(
    "out.html",
    config={"displayModeBar": False},
    post_script="document.body.style.margin='0';document.body.style.padding='0';"
                "document.body.style.overflow='hidden';"
                "document.documentElement.style.overflow='hidden';",
)
